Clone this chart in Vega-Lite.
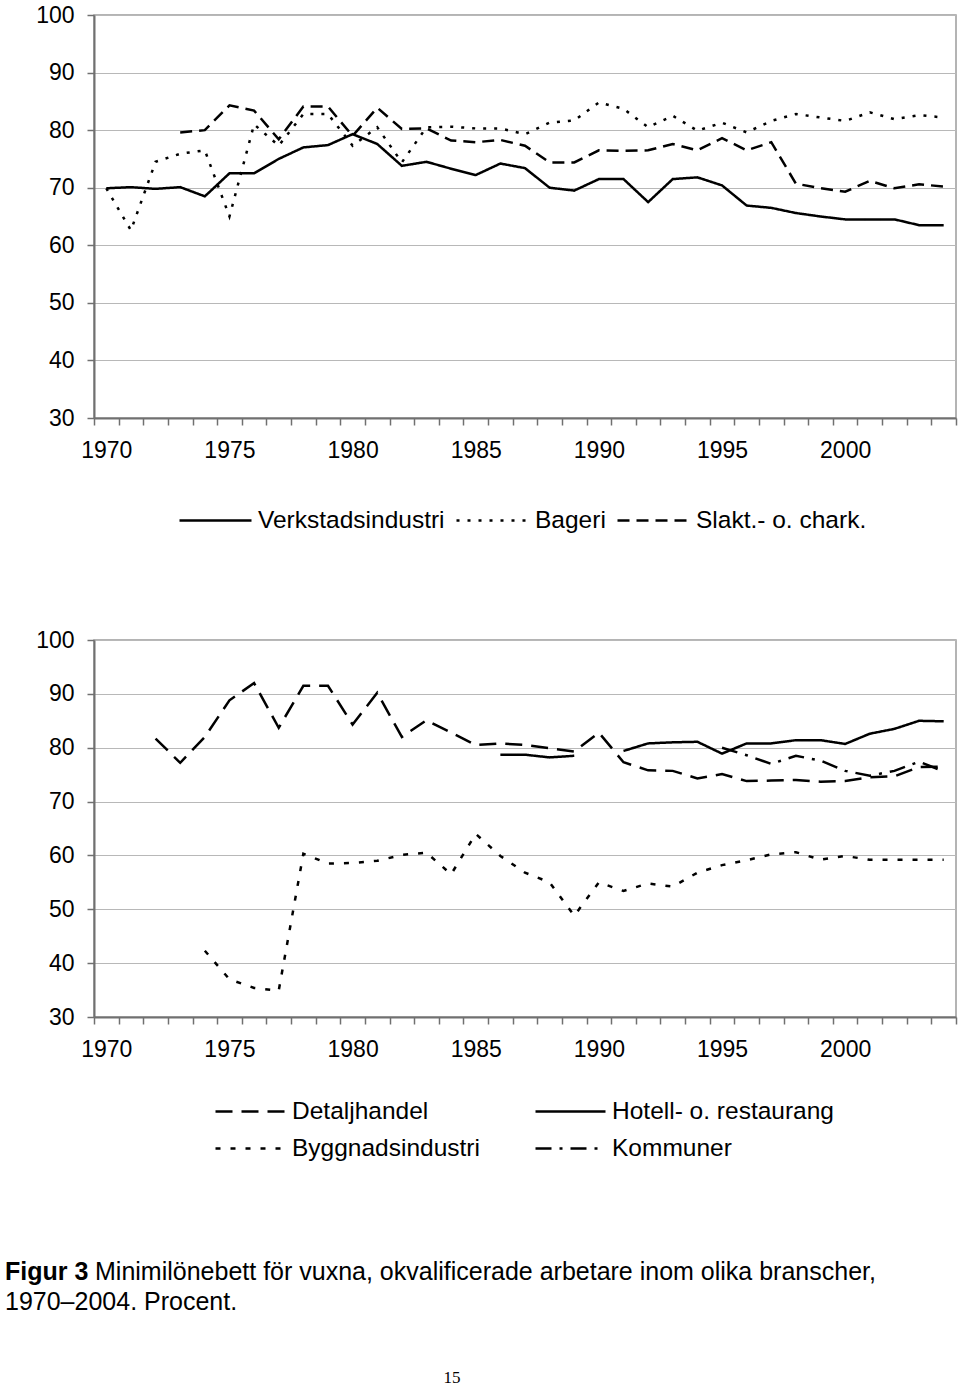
{
  "$schema": "https://vega.github.io/schema/vega-lite/v6.json",
  "background": "white",
  "padding": {"left": 5, "top": 3, "right": 0, "bottom": 0},
  "autosize": {"type": "pad"},
  "bounds": "flush",
  "spacing": 222,
  "resolve": {"scale": {"strokeDash": "independent", "x": "independent", "y": "independent"}, "legend": {"strokeDash": "independent"}},
  "config": {
    "font": "Liberation Sans",
    "view": {"stroke": "#9c9c9c", "strokeWidth": 1.5},
    "axis": {
      "labelFont": "Liberation Sans",
      "labelFontSize": 23,
      "labelColor": "black",
      "domainColor": "#707070",
      "domainWidth": 2,
      "tickColor": "#707070",
      "tickWidth": 1.5,
      "tickSize": 7,
      "gridColor": "#b8b8b8",
      "gridWidth": 1,
      "title": null
    },
    "legend": {"padding": 0}
  },
  "datasets": {
    "top": [
      {"year": 1970, "series": "Verkstadsindustri", "value": 69.9},
      {"year": 1971, "series": "Verkstadsindustri", "value": 70.1},
      {"year": 1972, "series": "Verkstadsindustri", "value": 69.8},
      {"year": 1973, "series": "Verkstadsindustri", "value": 70.1},
      {"year": 1974, "series": "Verkstadsindustri", "value": 68.5},
      {"year": 1975, "series": "Verkstadsindustri", "value": 72.5},
      {"year": 1976, "series": "Verkstadsindustri", "value": 72.5},
      {"year": 1977, "series": "Verkstadsindustri", "value": 75.0},
      {"year": 1978, "series": "Verkstadsindustri", "value": 77.0},
      {"year": 1979, "series": "Verkstadsindustri", "value": 77.4},
      {"year": 1980, "series": "Verkstadsindustri", "value": 79.3},
      {"year": 1981, "series": "Verkstadsindustri", "value": 77.6},
      {"year": 1982, "series": "Verkstadsindustri", "value": 73.8},
      {"year": 1983, "series": "Verkstadsindustri", "value": 74.5},
      {"year": 1984, "series": "Verkstadsindustri", "value": 73.3},
      {"year": 1985, "series": "Verkstadsindustri", "value": 72.2},
      {"year": 1986, "series": "Verkstadsindustri", "value": 74.2},
      {"year": 1987, "series": "Verkstadsindustri", "value": 73.4},
      {"year": 1988, "series": "Verkstadsindustri", "value": 70.0},
      {"year": 1989, "series": "Verkstadsindustri", "value": 69.5},
      {"year": 1990, "series": "Verkstadsindustri", "value": 71.5},
      {"year": 1991, "series": "Verkstadsindustri", "value": 71.5},
      {"year": 1992, "series": "Verkstadsindustri", "value": 67.5},
      {"year": 1993, "series": "Verkstadsindustri", "value": 71.5},
      {"year": 1994, "series": "Verkstadsindustri", "value": 71.8},
      {"year": 1995, "series": "Verkstadsindustri", "value": 70.4},
      {"year": 1996, "series": "Verkstadsindustri", "value": 66.9},
      {"year": 1997, "series": "Verkstadsindustri", "value": 66.5},
      {"year": 1998, "series": "Verkstadsindustri", "value": 65.6},
      {"year": 1999, "series": "Verkstadsindustri", "value": 65.0},
      {"year": 2000, "series": "Verkstadsindustri", "value": 64.5},
      {"year": 2001, "series": "Verkstadsindustri", "value": 64.5},
      {"year": 2002, "series": "Verkstadsindustri", "value": 64.5},
      {"year": 2003, "series": "Verkstadsindustri", "value": 63.5},
      {"year": 2004, "series": "Verkstadsindustri", "value": 63.5},
      {"year": 1970, "series": "Bageri", "value": 69.9},
      {"year": 1971, "series": "Bageri", "value": 62.6},
      {"year": 1972, "series": "Bageri", "value": 74.5},
      {"year": 1973, "series": "Bageri", "value": 75.9},
      {"year": 1974, "series": "Bageri", "value": 76.5},
      {"year": 1975, "series": "Bageri", "value": 65.0},
      {"year": 1976, "series": "Bageri", "value": 81.0},
      {"year": 1977, "series": "Bageri", "value": 77.3},
      {"year": 1978, "series": "Bageri", "value": 82.8},
      {"year": 1979, "series": "Bageri", "value": 82.8},
      {"year": 1980, "series": "Bageri", "value": 77.3},
      {"year": 1981, "series": "Bageri", "value": 80.5},
      {"year": 1982, "series": "Bageri", "value": 74.4},
      {"year": 1983, "series": "Bageri", "value": 80.5},
      {"year": 1984, "series": "Bageri", "value": 80.6},
      {"year": 1985, "series": "Bageri", "value": 80.3},
      {"year": 1986, "series": "Bageri", "value": 80.3},
      {"year": 1987, "series": "Bageri", "value": 79.3},
      {"year": 1988, "series": "Bageri", "value": 81.3},
      {"year": 1989, "series": "Bageri", "value": 81.7},
      {"year": 1990, "series": "Bageri", "value": 84.8},
      {"year": 1991, "series": "Bageri", "value": 83.7},
      {"year": 1992, "series": "Bageri", "value": 80.5},
      {"year": 1993, "series": "Bageri", "value": 82.5},
      {"year": 1994, "series": "Bageri", "value": 79.9},
      {"year": 1995, "series": "Bageri", "value": 81.3},
      {"year": 1996, "series": "Bageri", "value": 79.6},
      {"year": 1997, "series": "Bageri", "value": 81.6},
      {"year": 1998, "series": "Bageri", "value": 82.8},
      {"year": 1999, "series": "Bageri", "value": 82.2},
      {"year": 2000, "series": "Bageri", "value": 81.6},
      {"year": 2001, "series": "Bageri", "value": 83.1},
      {"year": 2002, "series": "Bageri", "value": 81.9},
      {"year": 2003, "series": "Bageri", "value": 82.6},
      {"year": 2004, "series": "Bageri", "value": 82.2},
      {"year": 1973, "series": "Slakt.- o. chark.", "value": 79.6},
      {"year": 1974, "series": "Slakt.- o. chark.", "value": 80.0},
      {"year": 1975, "series": "Slakt.- o. chark.", "value": 84.3},
      {"year": 1976, "series": "Slakt.- o. chark.", "value": 83.4},
      {"year": 1977, "series": "Slakt.- o. chark.", "value": 78.4},
      {"year": 1978, "series": "Slakt.- o. chark.", "value": 84.1},
      {"year": 1979, "series": "Slakt.- o. chark.", "value": 84.1},
      {"year": 1980, "series": "Slakt.- o. chark.", "value": 79.0},
      {"year": 1981, "series": "Slakt.- o. chark.", "value": 83.9},
      {"year": 1982, "series": "Slakt.- o. chark.", "value": 80.2},
      {"year": 1983, "series": "Slakt.- o. chark.", "value": 80.3},
      {"year": 1984, "series": "Slakt.- o. chark.", "value": 78.2},
      {"year": 1985, "series": "Slakt.- o. chark.", "value": 77.9},
      {"year": 1986, "series": "Slakt.- o. chark.", "value": 78.3},
      {"year": 1987, "series": "Slakt.- o. chark.", "value": 77.3},
      {"year": 1988, "series": "Slakt.- o. chark.", "value": 74.4},
      {"year": 1989, "series": "Slakt.- o. chark.", "value": 74.4},
      {"year": 1990, "series": "Slakt.- o. chark.", "value": 76.5},
      {"year": 1991, "series": "Slakt.- o. chark.", "value": 76.4},
      {"year": 1992, "series": "Slakt.- o. chark.", "value": 76.5},
      {"year": 1993, "series": "Slakt.- o. chark.", "value": 77.6},
      {"year": 1994, "series": "Slakt.- o. chark.", "value": 76.5},
      {"year": 1995, "series": "Slakt.- o. chark.", "value": 78.6},
      {"year": 1996, "series": "Slakt.- o. chark.", "value": 76.5},
      {"year": 1997, "series": "Slakt.- o. chark.", "value": 77.9},
      {"year": 1998, "series": "Slakt.- o. chark.", "value": 70.7},
      {"year": 1999, "series": "Slakt.- o. chark.", "value": 69.9},
      {"year": 2000, "series": "Slakt.- o. chark.", "value": 69.3},
      {"year": 2001, "series": "Slakt.- o. chark.", "value": 71.2},
      {"year": 2002, "series": "Slakt.- o. chark.", "value": 69.9},
      {"year": 2003, "series": "Slakt.- o. chark.", "value": 70.6},
      {"year": 2004, "series": "Slakt.- o. chark.", "value": 70.2}
    ],
    "bottom": [
      {"year": 1972, "series": "Detaljhandel", "value": 81.7},
      {"year": 1973, "series": "Detaljhandel", "value": 77.2},
      {"year": 1974, "series": "Detaljhandel", "value": 82.0},
      {"year": 1975, "series": "Detaljhandel", "value": 88.8},
      {"year": 1976, "series": "Detaljhandel", "value": 92.0},
      {"year": 1977, "series": "Detaljhandel", "value": 83.7},
      {"year": 1978, "series": "Detaljhandel", "value": 91.5},
      {"year": 1979, "series": "Detaljhandel", "value": 91.5},
      {"year": 1980, "series": "Detaljhandel", "value": 84.3},
      {"year": 1981, "series": "Detaljhandel", "value": 90.2},
      {"year": 1982, "series": "Detaljhandel", "value": 82.0},
      {"year": 1983, "series": "Detaljhandel", "value": 85.1},
      {"year": 1984, "series": "Detaljhandel", "value": 82.8},
      {"year": 1985, "series": "Detaljhandel", "value": 80.5},
      {"year": 1986, "series": "Detaljhandel", "value": 80.8},
      {"year": 1987, "series": "Detaljhandel", "value": 80.5},
      {"year": 1988, "series": "Detaljhandel", "value": 79.9},
      {"year": 1989, "series": "Detaljhandel", "value": 79.3},
      {"year": 1990, "series": "Detaljhandel", "value": 82.8},
      {"year": 1991, "series": "Detaljhandel", "value": 77.3},
      {"year": 1992, "series": "Detaljhandel", "value": 75.8},
      {"year": 1993, "series": "Detaljhandel", "value": 75.7},
      {"year": 1994, "series": "Detaljhandel", "value": 74.3},
      {"year": 1995, "series": "Detaljhandel", "value": 75.1},
      {"year": 1996, "series": "Detaljhandel", "value": 73.8},
      {"year": 1997, "series": "Detaljhandel", "value": 73.9},
      {"year": 1998, "series": "Detaljhandel", "value": 74.0},
      {"year": 1999, "series": "Detaljhandel", "value": 73.7},
      {"year": 2000, "series": "Detaljhandel", "value": 73.8},
      {"year": 2001, "series": "Detaljhandel", "value": 74.5},
      {"year": 2002, "series": "Detaljhandel", "value": 74.7},
      {"year": 2003, "series": "Detaljhandel", "value": 76.4},
      {"year": 2004, "series": "Detaljhandel", "value": 76.5},
      {"year": 1986, "series": "Hotell- o. restaurang", "value": 78.7},
      {"year": 1987, "series": "Hotell- o. restaurang", "value": 78.7},
      {"year": 1988, "series": "Hotell- o. restaurang", "value": 78.2},
      {"year": 1989, "series": "Hotell- o. restaurang", "value": 78.5},
      {"year": 1990, "series": "Hotell- o. restaurang", "value": null},
      {"year": 1991, "series": "Hotell- o. restaurang", "value": 79.4},
      {"year": 1992, "series": "Hotell- o. restaurang", "value": 80.8},
      {"year": 1993, "series": "Hotell- o. restaurang", "value": 81.0},
      {"year": 1994, "series": "Hotell- o. restaurang", "value": 81.1},
      {"year": 1995, "series": "Hotell- o. restaurang", "value": 78.9},
      {"year": 1996, "series": "Hotell- o. restaurang", "value": 80.8},
      {"year": 1997, "series": "Hotell- o. restaurang", "value": 80.8},
      {"year": 1998, "series": "Hotell- o. restaurang", "value": 81.4},
      {"year": 1999, "series": "Hotell- o. restaurang", "value": 81.4},
      {"year": 2000, "series": "Hotell- o. restaurang", "value": 80.7},
      {"year": 2001, "series": "Hotell- o. restaurang", "value": 82.6},
      {"year": 2002, "series": "Hotell- o. restaurang", "value": 83.5},
      {"year": 2003, "series": "Hotell- o. restaurang", "value": 85.0},
      {"year": 2004, "series": "Hotell- o. restaurang", "value": 84.9},
      {"year": 1974, "series": "Byggnadsindustri", "value": 42.3},
      {"year": 1975, "series": "Byggnadsindustri", "value": 37.0},
      {"year": 1976, "series": "Byggnadsindustri", "value": 35.4},
      {"year": 1977, "series": "Byggnadsindustri", "value": 34.9},
      {"year": 1978, "series": "Byggnadsindustri", "value": 60.3},
      {"year": 1979, "series": "Byggnadsindustri", "value": 58.5},
      {"year": 1980, "series": "Byggnadsindustri", "value": 58.6},
      {"year": 1981, "series": "Byggnadsindustri", "value": 59.0},
      {"year": 1982, "series": "Byggnadsindustri", "value": 60.1},
      {"year": 1983, "series": "Byggnadsindustri", "value": 60.5},
      {"year": 1984, "series": "Byggnadsindustri", "value": 56.5},
      {"year": 1985, "series": "Byggnadsindustri", "value": 64.0},
      {"year": 1986, "series": "Byggnadsindustri", "value": 59.9},
      {"year": 1987, "series": "Byggnadsindustri", "value": 56.8},
      {"year": 1988, "series": "Byggnadsindustri", "value": 55.0},
      {"year": 1989, "series": "Byggnadsindustri", "value": 48.8},
      {"year": 1990, "series": "Byggnadsindustri", "value": 55.0},
      {"year": 1991, "series": "Byggnadsindustri", "value": 53.4},
      {"year": 1992, "series": "Byggnadsindustri", "value": 54.8},
      {"year": 1993, "series": "Byggnadsindustri", "value": 54.2},
      {"year": 1994, "series": "Byggnadsindustri", "value": 56.8},
      {"year": 1995, "series": "Byggnadsindustri", "value": 58.2},
      {"year": 1996, "series": "Byggnadsindustri", "value": 59.1},
      {"year": 1997, "series": "Byggnadsindustri", "value": 60.2},
      {"year": 1998, "series": "Byggnadsindustri", "value": 60.6},
      {"year": 1999, "series": "Byggnadsindustri", "value": 59.2},
      {"year": 2000, "series": "Byggnadsindustri", "value": 59.9},
      {"year": 2001, "series": "Byggnadsindustri", "value": 59.2},
      {"year": 2002, "series": "Byggnadsindustri", "value": 59.2},
      {"year": 2003, "series": "Byggnadsindustri", "value": 59.2},
      {"year": 2004, "series": "Byggnadsindustri", "value": 59.2},
      {"year": 1995, "series": "Kommuner", "value": 80.0},
      {"year": 1996, "series": "Kommuner", "value": 78.6},
      {"year": 1997, "series": "Kommuner", "value": 77.0},
      {"year": 1998, "series": "Kommuner", "value": 78.5},
      {"year": 1999, "series": "Kommuner", "value": 77.6},
      {"year": 2000, "series": "Kommuner", "value": 75.7},
      {"year": 2001, "series": "Kommuner", "value": 74.8},
      {"year": 2002, "series": "Kommuner", "value": 75.7},
      {"year": 2003, "series": "Kommuner", "value": 77.4},
      {"year": 2004, "series": "Kommuner", "value": 75.6}
    ]
  },
  "vconcat": [
    {
      "width": 862,
      "height": 403,
      "data": {"name": "top"},
      "mark": {"type": "line", "color": "black", "strokeWidth": 2.5, "invalid": "break-paths-show-domains"},
      "encoding": {
        "x": {
          "field": "year", "type": "quantitative",
          "scale": {"domain": [1969.5, 2004.5], "nice": false, "zero": false},
          "axis": {
            "values": [1969.5, 1970.5, 1971.5, 1972.5, 1973.5, 1974.5, 1975.5, 1976.5, 1977.5, 1978.5, 1979.5, 1980.5, 1981.5, 1982.5, 1983.5, 1984.5, 1985.5, 1986.5, 1987.5, 1988.5, 1989.5, 1990.5, 1991.5, 1992.5, 1993.5, 1994.5, 1995.5, 1996.5, 1997.5, 1998.5, 1999.5, 2000.5, 2001.5, 2002.5, 2003.5, 2004.5],
            "labelExpr": "((datum.value + 0.5) % 5 == 0 && datum.value < 2004) ? format(datum.value + 0.5, 'd') : ''",
            "labelOffset": 12.3, "labelOverlap": false, "labelFlush": false, "labelBound": false,
            "labelPadding": 14, "grid": false
          }
        },
        "y": {
          "field": "value", "type": "quantitative",
          "scale": {"domain": [30, 100], "nice": false, "zero": false},
          "axis": {"values": [30, 40, 50, 60, 70, 80, 90, 100], "grid": true, "labelPadding": 13}
        },
        "strokeDash": {
          "field": "series", "type": "nominal",
          "scale": {"domain": ["Verkstadsindustri", "Bageri", "Slakt.- o. chark."], "range": [[1, 0], [3, 8], [12, 7]]},
          "legend": {
            "orient": "none", "legendX": 84, "legendY": 468, "direction": "horizontal", "columns": 3,
            "title": null, "symbolType": "stroke", "symbolSize": 5184, "symbolStrokeWidth": 2.5,
            "symbolStrokeColor": "black", "labelFont": "Liberation Sans", "labelFontSize": 24.5,
            "labelColor": "black", "labelOffset": 5, "columnPadding": 6, "labelLimit": 400
          }
        }
      }
    },
    {
      "width": 862,
      "height": 377,
      "data": {"name": "bottom"},
      "mark": {"type": "line", "color": "black", "strokeWidth": 2.5, "invalid": "break-paths-show-domains"},
      "encoding": {
        "x": {
          "field": "year", "type": "quantitative",
          "scale": {"domain": [1969.5, 2004.5], "nice": false, "zero": false},
          "axis": {
            "values": [1969.5, 1970.5, 1971.5, 1972.5, 1973.5, 1974.5, 1975.5, 1976.5, 1977.5, 1978.5, 1979.5, 1980.5, 1981.5, 1982.5, 1983.5, 1984.5, 1985.5, 1986.5, 1987.5, 1988.5, 1989.5, 1990.5, 1991.5, 1992.5, 1993.5, 1994.5, 1995.5, 1996.5, 1997.5, 1998.5, 1999.5, 2000.5, 2001.5, 2002.5, 2003.5, 2004.5],
            "labelExpr": "((datum.value + 0.5) % 5 == 0 && datum.value < 2004) ? format(datum.value + 0.5, 'd') : ''",
            "labelOffset": 12.3, "labelOverlap": false, "labelFlush": false, "labelBound": false,
            "labelPadding": 14, "grid": false
          }
        },
        "y": {
          "field": "value", "type": "quantitative",
          "scale": {"domain": [30, 100], "nice": false, "zero": false},
          "axis": {"values": [30, 40, 50, 60, 70, 80, 90, 100], "grid": true, "labelPadding": 13}
        },
        "strokeDash": {
          "field": "series", "type": "nominal",
          "scale": {"domain": ["Detaljhandel", "Hotell- o. restaurang", "Byggnadsindustri", "Kommuner"], "range": [[17, 9], [1, 0], [5, 10], [16, 8, 3, 8]]},
          "legend": {
            "orient": "none", "legendX": 120, "legendY": 453, "direction": "horizontal", "columns": 2,
            "title": null, "symbolType": "stroke", "symbolSize": 4900, "symbolStrokeWidth": 2.5,
            "symbolStrokeColor": "black", "labelFont": "Liberation Sans", "labelFontSize": 24.5,
            "labelColor": "black", "labelOffset": 5, "columnPadding": 54, "rowPadding": 0,
            "clipHeight": 37, "labelLimit": 400
          }
        }
      }
    },
    {
      "width": 862,
      "height": 100,
      "view": {"stroke": null},
      "layer": [
        {
          "data": {"values": [{"t": "Figur 3"}]},
          "mark": {"type": "text", "font": "Liberation Sans", "fontSize": 25, "fontWeight": "bold", "align": "left", "baseline": "middle", "color": "black"},
          "encoding": {"text": {"field": "t"}, "x": {"value": -89}, "y": {"value": 33}}
        },
        {
          "data": {"values": [{"t": "Minimilönebett för vuxna, okvalificerade arbetare inom olika branscher,"}]},
          "mark": {"type": "text", "font": "Liberation Sans", "fontSize": 25, "align": "left", "baseline": "middle", "color": "black"},
          "encoding": {"text": {"field": "t"}, "x": {"value": 1}, "y": {"value": 33}}
        },
        {
          "data": {"values": [{"t": "1970–2004. Procent."}]},
          "mark": {"type": "text", "font": "Liberation Sans", "fontSize": 25, "align": "left", "baseline": "middle", "color": "black"},
          "encoding": {"text": {"field": "t"}, "x": {"value": -89}, "y": {"value": 63}}
        },
        {
          "data": {"values": [{"t": "15"}]},
          "mark": {"type": "text", "font": "Liberation Serif", "fontSize": 17, "align": "center", "baseline": "middle", "color": "black"},
          "encoding": {"text": {"field": "t"}, "x": {"value": 358}, "y": {"value": 139}}
        }
      ]
    }
  ]
}
